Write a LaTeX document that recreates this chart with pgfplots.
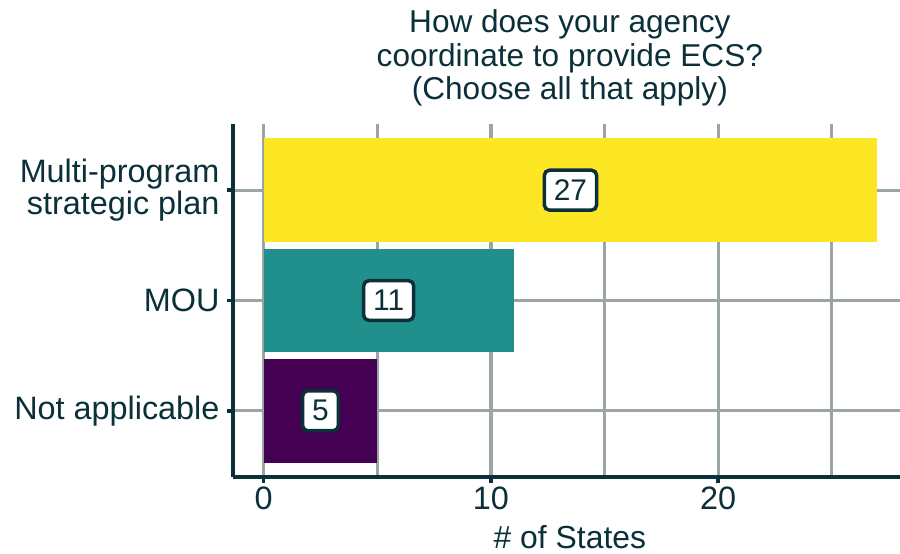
\documentclass[border=0pt]{standalone}
\usepackage{fontspec}
\setmainfont{Liberation Sans}
\usepackage{pgfplots}
\pgfplotsset{compat=1.18}
\definecolor{ink}{HTML}{0B3039}
\definecolor{gridc}{HTML}{9AA5A4}
\definecolor{vyellow}{HTML}{FDE725}
\definecolor{vteal}{HTML}{21908C}
\definecolor{vpurple}{HTML}{440154}
\begin{document}
\begin{tikzpicture}[x=1bp,y=1bp]
\path[use as bounding box] (0,0) rectangle (900,554);
\begin{axis}[
  at={(233bp,77bp)}, anchor=south west, scale only axis,
  width=667bp, height=353bp,
  xmin=-1.35, xmax=28.0, ymin=0.4, ymax=3.6,
  axis x line*=bottom, axis y line*=left,
  axis line style={ink, line width=4bp, -},
  xtick={0,10,20}, minor xtick={5,15,25},
  ytick={1,2,3},
  yticklabels={Not applicable, MOU, {Multi-program\\strategic plan}},
  grid=both,
  major grid style={gridc, line width=3.3bp},
  minor grid style={gridc, line width=3.3bp},
  tick align=outside, major tick length=6bp, minor tick length=0pt,
  tick style={ink, line width=3.5bp},
  ticklabel style={font=\fontsize{32.5}{33}\selectfont, text=ink},
  yticklabel style={align=right, xshift=-4bp},
  /pgf/number format/assume math mode=true,
  xlabel={\# of States},
  xlabel style={font=\fontsize{32}{33}\selectfont, text=ink, at={(axis description cs:0.505,0)}, anchor=base, yshift=-72bp},
  clip=false,
]
\addplot[xbar, bar shift=0pt, bar width=0.94, fill=vyellow, draw=none] coordinates {(27,3)};
\addplot[xbar, bar shift=0pt, bar width=0.94, fill=vteal, draw=none] coordinates {(11,2)};
\addplot[xbar, bar shift=0pt, bar width=0.94, fill=vpurple, draw=none] coordinates {(5,1)};
\addplot[draw=none, mark=none, nodes near coords, point meta=explicit symbolic,
  nodes near coords style={anchor=center, fill=white, draw=ink, line width=3.5bp, rounded corners=5bp, inner xsep=9.5bp, inner ysep=9.5bp, font=\fontsize{30}{32}\selectfont, text=ink}]
  coordinates {(13.5,3) [27] (5.5,2) [11] (2.5,1) [5]};
\node[anchor=south, align=center, inner sep=0pt, font=\fontsize{31.7}{33.5}\selectfont, text=ink] at (rel axis cs:0.505,1) [yshift=17.5bp] {How does your agency\\coordinate to provide ECS?\\(Choose all that apply)};
\end{axis}
\end{tikzpicture}
\end{document}
